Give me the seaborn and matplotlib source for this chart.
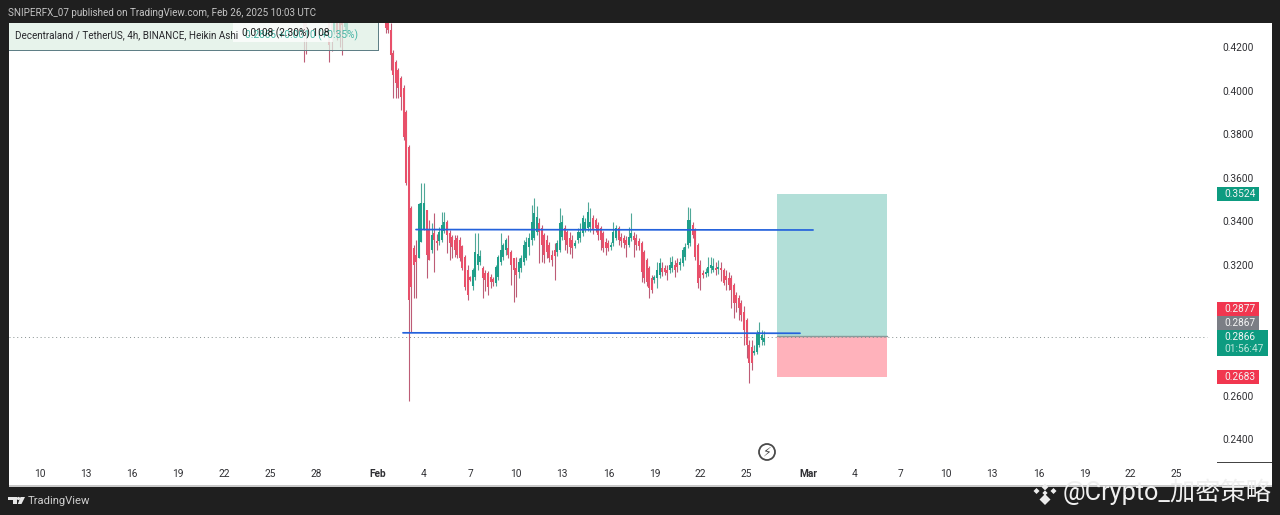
import numpy as np
import pandas as pd
import seaborn as sns
import matplotlib
matplotlib.use("Agg")
import matplotlib.pyplot as plt
from matplotlib.patches import Rectangle, Polygon, Circle

# ---------- data ----------
top_days = [27.17, 27.33, 28.83, 29.0, 29.17, 29.33, 29.5, 29.67, 29.83, 30.0]
top_open = [.434, .435, .435, .435, .4270, .435, .435, .435, .4290, .4264]
top_high = [.436, .436, .436, .436, .436, .436, .436, .436, .436, .436]
top_low = [.4131, .4168, .4131, .418, .4260, .423, .4200, .4163, .4280, .4250]
top_close = [.4270, .4250, .4210, .4236, .435, .4260, .4280, .4300, .435, .435]

first_candle_day = 32.5
candle_open = [
    .4310,.4310,.4278,.4172,.4131,.4094,.4058,.4012,.3902,.3741,
    .3461,.3277,.3245,.3231,.3305,.3360,.3452,.3360,.3268,.3346,
    .3310,.3310,.3314,.3355,.3397,.3346,.3328,.3314,.3323,.3314,
    .3286,.3236,.3176,.3144,.3104,.3144,.3199,.3213,.3186,.3163,
    .3163,.3144,.3135,.3117,.3144,.3213,.3236,.3268,.3277,.3259,
    .3231,.3186,.3167,.3186,.3213,.3231,.3282,.3314,.3323,.3351,
    .3392,.3369,.3337,.3314,.3291,.3245,.3268,.3259,.3268,.3328,
    .3369,.3351,.3323,.3314,.3286,.3314,.3323,.3346,.3360,.3369,
    .3374,.3415,.3406,.3383,.3369,.3346,.3305,.3300,.3282,.3300,
    .3323,.3369,.3328,.3323,.3314,.3291,.3323,.3332,.3323,.3309,
    .3300,.3259,.3222,.3186,.3140,.3131,.3140,.3154,.3186,.3186,
    .3176,.3176,.3186,.3199,.3208,.3199,.3208,.3236,.3291,.3300,
    .3383,.3360,.3291,.3199,.3163,.3158,.3163,.3186,.3176,.3186,
    .3181,.3186,.3176,.3149,.3140,.3140,.3108,.3062,.3048,.3025,
    .2984,.2947,.2832,.2823,.2796,.2800,.2832,.2855,.2846]
candle_high = [
    .4310,.4310,.4310,.4186,.4140,.4103,.4067,.4026,.3911,.3750,
    .3470,.3291,.3314,.3484,.3576,.3576,.3452,.3406,.3392,.3438,
    .3340,.3374,.3443,.3443,.3406,.3360,.3337,.3337,.3337,.3328,
    .3291,.3245,.3199,.3149,.3186,.3346,.3346,.3268,.3195,.3176,
    .3172,.3158,.3144,.3199,.3245,.3346,.3300,.3323,.3337,.3268,
    .3231,.3236,.3231,.3245,.3314,.3328,.3346,.3475,.3507,.3470,
    .3415,.3383,.3346,.3337,.3305,.3268,.3300,.3314,.3461,.3429,
    .3383,.3360,.3351,.3337,.3314,.3369,.3392,.3429,.3415,.3489,
    .3461,.3429,.3415,.3397,.3378,.3355,.3323,.3314,.3305,.3397,
    .3383,.3378,.3346,.3337,.3332,.3374,.3438,.3351,.3342,.3323,
    .3309,.3268,.3231,.3195,.3154,.3154,.3213,.3231,.3213,.3199,
    .3199,.3236,.3240,.3222,.3231,.3231,.3282,.3300,.3466,.3461,
    .3397,.3369,.3300,.3222,.3176,.3186,.3236,.3236,.3231,.3213,
    .3222,.3213,.3186,.3176,.3167,.3154,.3117,.3076,.3062,.3039,
    .3011,.2956,.2855,.2855,.2832,.2901,.2938,.2901,.2897]
candle_low = [
    .4264,.4264,.4094,.3966,.3966,.3966,.3911,.3773,.3567,.2575,
    .2892,.3048,.3048,.3231,.3305,.3360,.3140,.3222,.3254,.3167,
    .3268,.3291,.3305,.3346,.3254,.3222,.3231,.3236,.3231,.3218,
    .3176,.3085,.3039,.3126,.3085,.3131,.3176,.3199,.3048,.3080,
    .3062,.3094,.3103,.3103,.3131,.3199,.3222,.3245,.3231,.3108,
    .3030,.3053,.3140,.3167,.3199,.3222,.3245,.3291,.3314,.3337,
    .3208,.3213,.3208,.3231,.3213,.3195,.3131,.3240,.3259,.3314,
    .3268,.3254,.3250,.3231,.3277,.3300,.3305,.3332,.3351,.3355,
    .3351,.3342,.3351,.3314,.3268,.3259,.3245,.3263,.3268,.3286,
    .3314,.3291,.3282,.3277,.3236,.3282,.3309,.3236,.3268,.3268,
    .3121,.3117,.3103,.3048,.3071,.3117,.3094,.3140,.3149,.3154,
    .3131,.3163,.3167,.3144,.3167,.3176,.3195,.3222,.3277,.3286,
    .3323,.3222,.3094,.3085,.3140,.3144,.3149,.3163,.3167,.3154,
    .3158,.3126,.3108,.3085,.3085,.3002,.2956,.2984,.2947,.2942,
    .2832,.2773,.2658,.2718,.2787,.2791,.2823,.2832,.2832]
candle_close = [
    .4287,.4278,.4163,.4071,.4035,.4012,.3970,.3787,.3576,.3039,
    .3099,.3199,.3213,.3480,.3484,.3484,.3245,.3222,.3337,.3314,
    .3300,.3351,.3383,.3397,.3337,.3300,.3282,.3268,.3245,.3231,
    .3186,.3099,.3062,.3131,.3176,.3259,.3250,.3240,.3140,.3131,
    .3098,.3121,.3120,.3190,.3236,.3268,.3291,.3314,.3245,.3199,
    .3176,.3154,.3213,.3231,.3291,.3305,.3323,.3397,.3438,.3420,
    .3351,.3291,.3245,.3259,.3231,.3222,.3240,.3300,.3392,.3397,
    .3314,.3291,.3282,.3277,.3300,.3351,.3351,.3415,.3397,.3443,
    .3397,.3360,.3369,.3337,.3314,.3277,.3277,.3277,.3291,.3351,
    .3369,.3314,.3309,.3300,.3291,.3328,.3346,.3314,.3291,.3286,
    .3167,.3140,.3121,.3094,.3085,.3144,.3176,.3208,.3167,.3167,
    .3163,.3199,.3213,.3176,.3190,.3213,.3268,.3282,.3406,.3406,
    .3337,.3236,.3117,.3140,.3154,.3167,.3190,.3199,.3195,.3176,
    .3190,.3176,.3117,.3131,.3108,.3085,.3025,.3025,.3002,.2970,
    .2901,.2832,.2750,.2750,.2805,.2887,.2892,.2878,.2866]

resistance_days = [34.48, 60.33]
resistance_price = [.3362, .3360]
support_days = [33.63, 59.48]
support_price = [.2888, .2886]

position_days = [57.96, 65.17]
target_price = 0.3524
entry_price = 0.2872
stop_price = 0.2683
last_price = 0.2871

y_ticks = [.42, .40, .38, .36, .34, .32, .26, .24]
x_tick_days = [10, 13, 16, 19, 22, 25, 28, 32, 35, 38, 41, 44, 47, 50, 53, 56,
               60, 63, 66, 69, 72, 75, 78, 81, 84]
x_tick_labels = ["10", "13", "16", "19", "22", "25", "28", "Feb", "4", "7", "10", "13",
                 "16", "19", "22", "25", "Mar", "4", "7", "10", "13", "16", "19", "22", "25"]
price_badges = [("0.3524", 187, 201, "#0d9b80"), ("0.2877", 302, 316, "#f1364f"),
                ("0.2867", 316, 330, "#7b7e85"), ("0.2683", 370, 384, "#f1364f")]

# ---------- style ----------
W, H = 1280, 515
DARK = "#1f1f1f"
sns.set_theme(style="white", rc={"figure.facecolor": DARK, "axes.facecolor": "white"})
plt.rcParams["font.family"] = ["Roboto", "Noto Sans CJK SC", "DejaVu Sans"]

fig = plt.figure(figsize=(W / 100, H / 100), dpi=100, facecolor=DARK)
ax = fig.add_axes([9 / W, 1 - 486 / H, (1272 - 9) / W, (486 - 23) / H])
ax.set_xlim(7.982, 90.208)
ax.set_ylim(0.2185, 0.4310)
sns.despine(ax=ax, left=True, right=True, top=True, bottom=True)


def px_rect(x0, y0, x1, y1, **kw):
    r = Rectangle((x0 / W, 1 - y1 / H), (x1 - x0) / W, (y1 - y0) / H,
                  transform=fig.transFigure, **kw)
    fig.add_artist(r)
    return r


def px_text(x, y, s, **kw):
    kw.setdefault("va", "center")
    kw.setdefault("ha", "left")
    return fig.text(x / W, 1 - y / H, s, **kw)


# position tool
ax.fill_between(position_days, entry_price, target_price, color="#b2dfd8", lw=0, zorder=1)
ax.fill_between(position_days, stop_price, entry_price, color="#ffb2bb", lw=0, zorder=1)
sns.lineplot(x=position_days, y=[entry_price, entry_price], color="#8a9a9a", lw=1, ax=ax,
             zorder=1.5, legend=False)

# dotted last price line
sns.lineplot(x=[7.982, 86.0], y=[last_price, last_price], color="#858f8e", lw=0.7,
             linestyle=(0, (1, 3)), ax=ax, zorder=1.6, legend=False)

# candles
days = np.concatenate([top_days, first_candle_day + np.arange(len(candle_open)) / 6])
o = np.array(top_open + candle_open)
h = np.array(top_high + candle_high)
l = np.array(top_low + candle_low)
c = np.array(top_close + candle_close)
direction = np.where(c >= o, "up", "down")

wicks = pd.DataFrame({
    "day": np.repeat(days, 2), "price": np.column_stack([l, h]).ravel(),
    "candle": np.repeat(np.arange(len(days)), 2), "dir": np.repeat(direction, 2)})
bodies = pd.DataFrame({
    "day": np.repeat(days, 2), "price": np.column_stack([o, c]).ravel(),
    "candle": np.repeat(np.arange(len(days)), 2), "dir": np.repeat(direction, 2)})

sns.lineplot(data=wicks, x="day", y="price", units="candle", estimator=None, hue="dir",
             palette={"up": "#4fa898", "down": "#bd5c76"}, lw=0.8, sort=False,
             solid_capstyle="butt", legend=False, ax=ax, zorder=3)
sns.lineplot(data=bodies, x="day", y="price", units="candle", estimator=None, hue="dir",
             palette={"up": "#1f9f8a", "down": "#e8506a"}, lw=1.45, sort=False,
             solid_capstyle="butt", legend=False, ax=ax, zorder=3.1)

# drawn levels
sns.lineplot(x=resistance_days, y=resistance_price, color="#2462dc", lw=1.25, ax=ax,
             zorder=4, legend=False)
sns.lineplot(x=support_days, y=support_price, color="#2462dc", lw=1.25, ax=ax,
             zorder=4, legend=False)
ax.set_xlabel("")
ax.set_ylabel("")

# axes
ax.yaxis.tick_right()
ax.set_yticks(y_ticks)
ax.set_yticklabels([f"{v:.4f}" for v in y_ticks])
ax.tick_params(axis="y", length=0, pad=-36, labelsize=7.3, labelcolor="#2f2f33")
ax.set_xticks(x_tick_days)
ax.set_xticklabels(x_tick_labels)
ax.tick_params(axis="x", length=0, pad=-12.3, labelsize=7.3, labelcolor="#2f2f33")
for t in ax.get_xticklabels():
    if t.get_text() in ("Feb", "Mar"):
        t.set_fontweight("bold")
for t in ax.get_xticklabels() + ax.get_yticklabels():
    t.set_zorder(6)
ax.grid(False)

# bottom axis stub and edge
px_rect(1217, 462, 1272, 463, color="#444444", lw=0)
px_rect(9, 485, 1272, 486.5, color="#c9c9c9", lw=0)

# price badges
for txt, y0, y1, col in price_badges:
    px_rect(1217, y0, 1259, y1, color=col, lw=0)
    px_text(1224, (y0 + y1) / 2, txt, color="#f4f4f4", fontsize=7.3)
px_rect(1217, 330, 1268, 356, color="#0d9b80", lw=0)
px_text(1224, 337.5, "0.2866", color="#f4f4f4", fontsize=7.3)
px_text(1224, 349, "01:56:47", color="#bfe6dc", fontsize=7.3)

# header strip
px_rect(0, 0, W, 23, color=DARK, lw=0)
px_text(8, 12.5, "SNIPERFX_07 published on TradingView.com, Feb 26, 2025 10:03 UTC",
        color="#c4c4c4", fontsize=7.13)

# legend strip
px_rect(9, 23, 378, 50, facecolor="#dff0e5", edgecolor="none", alpha=0.75, zorder=5)
px_rect(9, 50, 378, 51, color="#5f7f86", lw=0, zorder=5)
px_rect(377.5, 23, 378.5, 51, color="#5f7f86", lw=0, zorder=5)
px_text(15, 35, "Decentraland / TetherUS, 4h, BINANCE, Heikin Ashi", color="#27272b",
        fontsize=7.15, zorder=7)
px_rect(233, 23, 333, 42, facecolor="white", edgecolor="none", alpha=0.75, zorder=6)
px_text(245, 35.5, "0.2866 +0.0010 (+0.35%)", color="#45b5a5", fontsize=7.3, zorder=7)
px_text(241.5, 33.5, "0.0108 (2.30%) 108", color="#1c1c1c", fontsize=7.25, zorder=8)

# lightning marker
fig.add_artist(Circle((767, H - 452), 8, transform=None, facecolor="white",
                      edgecolor="#4a4a4a", lw=1.3, zorder=6))
px_text(767, 452.5, "\u26a1", color="#4a4a4a", fontsize=9, ha="center",
        family="DejaVu Sans", zorder=7)

# footer logo and brand
for pts in ([(8, 497), (16.5, 497), (16.5, 504), (13, 504), (13, 500), (8, 500)],
            [(20.5, 497), (25, 497), (21.5, 504), (17.8, 504)]):
    fig.add_artist(Polygon([(x / W, 1 - y / H) for x, y in pts], transform=fig.transFigure,
                           color="#e6e6e6", lw=0))
fig.add_artist(Circle((18.5, H - 498.5), 1.6, transform=None, color="#e6e6e6", lw=0))
px_text(28, 501, "TradingView", color="#cfcfcf", fontsize=8.1)

# watermark
for cx, cy, r in [(1045, 487, 3.4), (1036.5, 491, 3), (1053.5, 491, 3),
                  (1045, 493, 2.6), (1045, 499.5, 5.5)]:
    fig.add_artist(Polygon([(cx / W, 1 - (cy - r) / H), ((cx + r) / W, 1 - cy / H),
                            (cx / W, 1 - (cy + r) / H), ((cx - r) / W, 1 - cy / H)],
                           transform=fig.transFigure, color="#ececec", lw=0, zorder=9))
px_text(1063, 492, "@Crypto_\u52a0\u5bc6\u7b56\u7565", color="#f0f0f0", fontsize=18.2, zorder=9)

fig.savefig("out.png", dpi=100, facecolor=DARK)
